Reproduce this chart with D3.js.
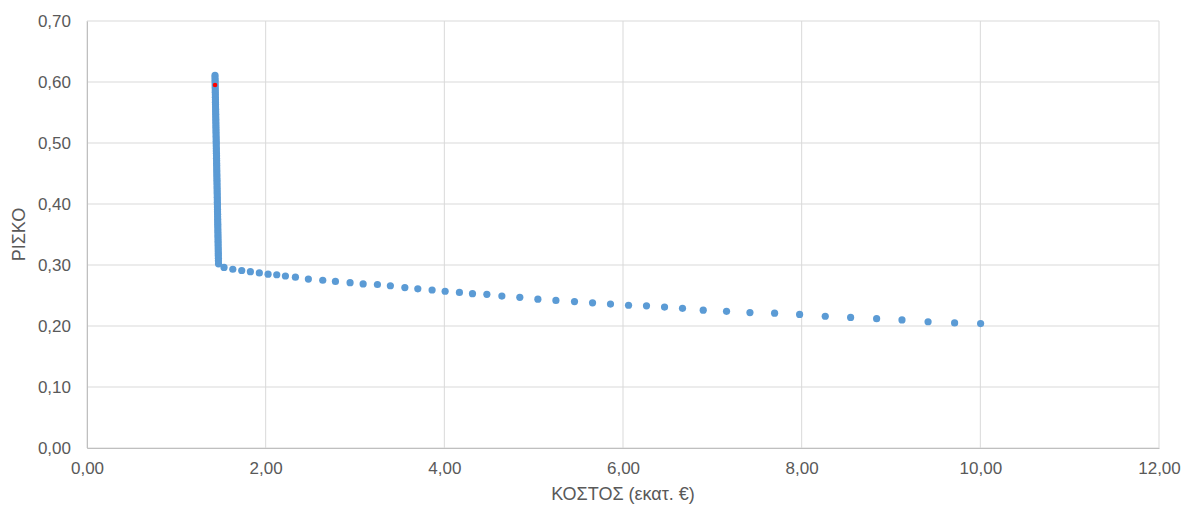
<!DOCTYPE html>
<html><head><meta charset="utf-8">
<script src="https://cdn.jsdelivr.net/npm/d3@7"></script>
<style>html,body{margin:0;padding:0;background:#fff;}svg{display:block;font-family:"Liberation Sans",Arial,sans-serif;}</style>
</head><body>
<script>
// Efficient frontier points: cost (million €) and risk
const cost = [
1.433,1.433,1.434,1.434,1.435,1.435,1.436,1.436,1.437,1.437,
1.438,1.438,1.439,1.439,1.440,1.440,1.441,1.441,1.442,1.442,
1.443,1.443,1.444,1.444,1.445,1.445,1.446,1.446,1.447,1.447,
1.448,1.448,1.449,1.450,1.450,1.451,1.451,1.452,1.452,1.453,
1.453,1.454,1.454,1.455,1.455,1.456,1.456,1.457,1.457,1.458,
1.458,1.459,1.459,1.460,1.460,1.461,1.461,1.462,1.462,1.463,
1.463,1.464,1.464,1.465,1.465,1.466,1.466,1.467,1.467,1.468,
1.468,1.469,1.469,1.470,1.470,1.471,1.471,1.472,
1.534,1.632,1.732,1.829,1.929,2.027,2.124,2.221,2.333,2.478,
2.639,2.781,2.945,3.091,3.251,3.396,3.558,3.703,3.863,4.009,
4.169,4.315,4.476,4.644,4.845,5.047,5.249,5.457,5.659,5.860,
6.062,6.263,6.465,6.666,6.898,7.159,7.421,7.697,7.977,8.264,
8.548,8.839,9.123,9.415,9.712,10.003];
const risk = [
0.611,0.607,0.603,0.599,0.595,0.591,0.587,0.583,0.579,0.575,
0.571,0.567,0.563,0.559,0.555,0.551,0.547,0.543,0.539,0.535,
0.531,0.527,0.523,0.519,0.515,0.511,0.507,0.503,0.499,0.495,
0.491,0.487,0.483,0.479,0.475,0.471,0.467,0.463,0.459,0.455,
0.451,0.447,0.443,0.439,0.435,0.431,0.427,0.423,0.419,0.415,
0.411,0.407,0.403,0.399,0.395,0.391,0.387,0.383,0.379,0.375,
0.371,0.367,0.363,0.359,0.355,0.351,0.347,0.343,0.339,0.335,
0.331,0.327,0.323,0.319,0.315,0.311,0.307,0.302,
0.296,0.293,0.291,0.289,0.287,0.285,0.284,0.282,0.280,0.277,
0.275,0.273,0.271,0.269,0.268,0.266,0.263,0.261,0.259,0.257,
0.255,0.253,0.252,0.249,0.247,0.244,0.242,0.240,0.238,0.236,
0.234,0.233,0.231,0.229,0.226,0.224,0.222,0.221,0.219,0.216,
0.214,0.212,0.210,0.207,0.205,0.204];
// Highlighted (selected) point
const selCost = [1.433];
const selRisk = [0.595];

const xTicks = [0,2,4,6,8,10,12];
const yTicks = [0,0.1,0.2,0.3,0.4,0.5,0.6,0.7];
const xTitle = "ΚΟΣΤΟΣ (εκατ. €)";
const yTitle = "ΡΙΣΚΟ";

const W = 1190, H = 506;
const m = {left:87, right:31, top:21, bottom:58};
const svg = d3.select("body").append("svg").attr("width",W).attr("height",H);
const x = d3.scaleLinear().domain([0,12]).range([m.left, W-m.right]);
const y = d3.scaleLinear().domain([0,0.7]).range([H-m.bottom, m.top]);
const fmt = d => d.toFixed(2).replace(".", ",");

// grid
svg.append("g").selectAll("line").data(xTicks).join("line")
  .attr("x1",d=>x(d)).attr("x2",d=>x(d)).attr("y1",y(0)).attr("y2",y(0.7))
  .attr("stroke","#d9d9d9").attr("stroke-width",1);
svg.append("g").selectAll("line").data(yTicks).join("line")
  .attr("y1",d=>y(d)).attr("y2",d=>y(d)).attr("x1",x(0)).attr("x2",x(12))
  .attr("stroke","#d9d9d9").attr("stroke-width",1);

// axes labels
const xa = svg.append("g").attr("transform",`translate(0,${y(0)})`)
  .call(d3.axisBottom(x).tickValues(xTicks).tickFormat(fmt).tickSize(0).tickPadding(14));
const ya = svg.append("g").attr("transform",`translate(${x(0)},0)`)
  .call(d3.axisLeft(y).tickValues(yTicks).tickFormat(fmt).tickSize(0).tickPadding(16));
[xa,ya].forEach(a=>{
  a.select(".domain").attr("stroke","#bfbfbf");
  a.selectAll("text").attr("fill","#595959").style("font-size","17px").style("font-family","'Liberation Sans',Arial,sans-serif");
});

// points
svg.append("g").selectAll("circle").data(cost.map((c,i)=>[c,risk[i]])).join("circle")
  .attr("cx",d=>x(d[0])).attr("cy",d=>y(d[1])).attr("r",3.6).attr("fill","#5b9bd5");
svg.append("g").selectAll("circle").data(selCost.map((c,i)=>[c,selRisk[i]])).join("circle")
  .attr("cx",d=>x(d[0])).attr("cy",d=>y(d[1])).attr("r",2.3).attr("fill","#ff0000");

// titles
svg.append("text").attr("x",(x(0)+x(12))/2).attr("y",500).attr("text-anchor","middle")
  .attr("fill","#595959").style("font-size","18px").text(xTitle);
svg.append("text").attr("transform",`translate(25,${(y(0)+y(0.7))/2}) rotate(-90)`).attr("text-anchor","middle")
  .attr("fill","#595959").style("font-size","18px").text(yTitle);
</script>
</body></html>
